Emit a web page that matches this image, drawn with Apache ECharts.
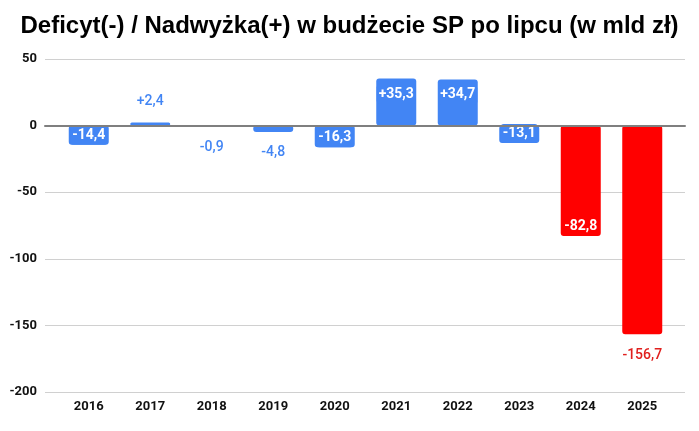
<!DOCTYPE html>
<html>
<head>
<meta charset="utf-8">
<script src="https://cdn.jsdelivr.net/npm/echarts@6/dist/echarts.min.js"></script>
<style>
  html, body { margin: 0; padding: 0; background: #fff; }
  #chart { width: 699px; height: 431px; }
</style>
</head>
<body>
<div id="chart"></div>
<script>
// dane: saldo budżetu po lipcu (mld zł)
const years = ['2016', '2017', '2018', '2019', '2020', '2021', '2022', '2023', '2024', '2025'];
const balance = [-14.4, 2.4, -0.9, -4.8, -16.3, 35.3, 34.7, -13.1, -82.8, -156.7];
const yTicks = [50, 0, -50, -100, -150, -200];
const redYears = ['2024', '2025'];
const outsideLabelYears = ['2017', '2018', '2019', '2025'];

const BLUE = '#4285F4';
const RED = '#FF0000';
const Y_MIN = yTicks[yTicks.length - 1];
const Y_MAX = yTicks[0];

const fmt = v => (v > 0 ? '+' : '') + v.toFixed(1).replace('.', ',');

const seriesData = balance.map((v, i) => {
    const color = redYears.includes(years[i]) ? RED : BLUE;
    const outside = outsideLabelYears.includes(years[i]);
    const label = outside
        ? {
            position: v >= 0 ? 'top' : 'bottom',
            distance: 14,
            color: color === RED ? '#E0201E' : BLUE,
            fontWeight: 500
        }
        : {
            position: v >= 0 ? 'insideTop' : 'insideBottom',
            distance: v >= 0 ? 6 : 0,
            color: '#fff',
            fontWeight: 'bold',
            backgroundColor: color,
            borderRadius: 3,
            padding: [1, 2],
            lineHeight: 17
        };
    return {
        value: v,
        itemStyle: { color: color, borderRadius: 3 },
        label: label
    };
});

const chart = echarts.init(document.getElementById('chart'));
chart.setOption({
    animation: false,
    title: {
        text: 'Deficyt(-) / Nadwyżka(+) w budżecie SP po lipcu (w mld zł)',
        left: 'center',
        top: 9,
        textStyle: {
            fontFamily: 'Liberation Sans',
            fontSize: 24,
            fontWeight: 'bold',
            color: '#000'
        }
    },
    // siatka 0: linie siatki i oś zera na pełną szerokość
    // siatka 1: słupki i etykiety lat (węższy zakres kategorii)
    grid: [
        { left: 45, right: 14, top: 59, bottom: 39 },
        { left: 58, right: 26, top: 59, bottom: 39 }
    ],
    xAxis: [
        {
            gridIndex: 0,
            type: 'category',
            data: years,
            axisTick: { show: false },
            axisLabel: { show: false },
            axisLine: {
                onZero: true,
                lineStyle: { color: '#7f7f7f', width: 2 }
            },
            z: 5
        },
        {
            gridIndex: 1,
            type: 'category',
            data: years,
            axisTick: { show: false },
            axisLine: { show: false },
            axisLabel: {
                fontFamily: 'Roboto',
                fontWeight: 'bold',
                fontSize: 13,
                color: '#111',
                margin: 8
            }
        }
    ],
    yAxis: [
        {
            gridIndex: 0,
            type: 'value',
            min: Y_MIN,
            max: Y_MAX,
            interval: 50,
            axisLine: { show: false },
            axisTick: { show: false },
            splitLine: { lineStyle: { color: '#d0d0d0', width: 1 } },
            axisLabel: {
                fontFamily: 'Roboto',
                fontWeight: 'bold',
                fontSize: 13,
                color: '#111',
                margin: 8
            }
        },
        {
            gridIndex: 1,
            type: 'value',
            min: Y_MIN,
            max: Y_MAX,
            interval: 50,
            show: false,
            splitLine: { show: false }
        }
    ],
    series: [{
        type: 'bar',
        xAxisIndex: 1,
        yAxisIndex: 1,
        data: seriesData,
        barWidth: 40,
        z: 3,
        label: {
            show: true,
            fontFamily: 'Roboto',
            fontSize: 14,
            formatter: p => fmt(p.value)
        }
    }]
});
</script>
</body>
</html>
